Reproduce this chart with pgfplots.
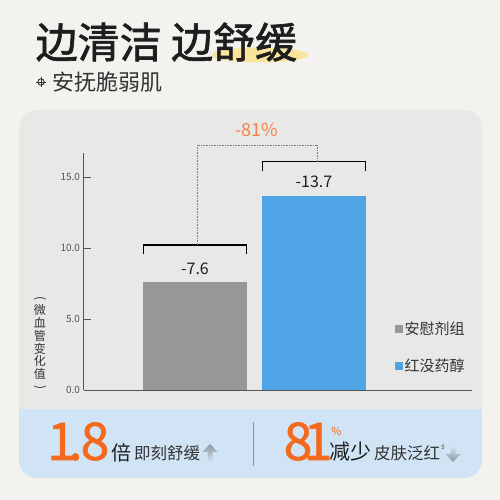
\documentclass[border=0pt]{standalone}
\usepackage{pgfplots}
\pgfplotsset{compat=1.18}
\usepackage{fontspec}
\setmainfont{Noto Sans CJK SC}
\newfontfamily\medfont[FakeBold=1.6]{Noto Sans CJK SC}
\newfontfamily\numfont[FakeBold=1.2]{Noto Sans CJK SC}
\definecolor{bg}{HTML}{F3F2EE}
\definecolor{panel}{HTML}{E8E8E6}
\definecolor{band}{HTML}{D0E4F5}
\definecolor{graybar}{HTML}{979797}
\definecolor{bluebar}{HTML}{4FA4E5}
\definecolor{orange1}{HTML}{F5804A}
\definecolor{orange2}{HTML}{F36A1E}
\definecolor{dark}{HTML}{1E1E1E}
\definecolor{mid}{HTML}{333333}
\definecolor{tickc}{HTML}{555555}
\definecolor{hilite}{HTML}{F8E49A}
\definecolor{arrowc}{HTML}{8E959C}
\begin{document}
\begin{tikzpicture}[x=1pt,y=1pt]
\fill[bg] (0,0) rectangle (500,500);
% panel
\fill[panel, rounded corners=18pt] (19,22) rectangle (482,390);
\begin{scope}
\clip[rounded corners=18pt] (19,22) rectangle (482,390);
\fill[band] (19,22) rectangle (482,91);
\end{scope}
% title
\fill[hilite] (260,445) ellipse (48 and 7.5);
\node[anchor=west, inner sep=0, text=dark, font=\fontsize{42}{42}\medfont] at (35.5,458) {边清洁 边舒缓};
% subtitle
\draw[mid, line width=0.9pt] (41,418) circle (3.2);
\draw[mid, line width=0.9pt] (36,418) -- (46,418) (41,413) -- (41,423);
\node[anchor=west, inner sep=0, text=mid, font=\fontsize{22}{22}\selectfont] at (52,418) {安抚脆弱肌};

\begin{axis}[
  at={(83.5pt,110pt)}, anchor=south west,
  scale only axis, width=388.5pt, height=236.8pt,
  xmin=-0.937, xmax=2.328, ymin=0, ymax=16.7,
  axis x line=bottom, axis y line=left,
  axis line style={-, color=tickc, line width=0.8pt},
  xtick=\empty,
  ytick={0,5,10,15},
  tick align=inside, major tick length=7pt,
  tick style={color=tickc, line width=0.8pt},
  yticklabel style={text=tickc, font=\fontsize{10}{10}\selectfont},
  /pgf/number format/assume math mode=true,
  /pgf/number format/.cd, fixed, fixed zerofill, precision=1, /pgfplots/.cd,
  clip=false,
  ylabel={\rotatebox[origin=c]{-90}{(}\\微\\血\\管\\变\\化\\值\\\rotatebox[origin=c]{-90}{)}},
  ylabel style={rotate=-90, anchor=south, align=center, at={(axis description cs:-0.112,-0.021)}, font=\fontsize{12}{12.8}\selectfont, text=mid},
  legend style={at={(axis description cs:0.80,0.297)}, anchor=north west, draw=none, fill=none,
    font=\fontsize{15}{15}\selectfont, text=mid, row sep=19pt, inner sep=0pt,
    /tikz/every even column/.append style={column sep=11pt}},
  legend image code/.code={\path[#1,draw=none] (0pt,-4pt) rectangle (8pt,4pt);},
  nodes near coords, point meta=explicit symbolic,
  every node near coord/.append style={font=\fontsize{16}{16}\selectfont, text=dark, anchor=south, yshift=4pt},
]
\addplot[ybar, bar width=0.874, fill=graybar, draw=none] coordinates {(0,7.6) [-7.6]};
\addlegendentry{安慰剂组}
\addplot[ybar, bar width=0.874, fill=bluebar, draw=none] coordinates {(1,13.7) [-13.7]};
\addlegendentry{红没药醇}
% brackets
\draw[black, line width=1.2pt] (axis cs:-0.435,9.59) -- (axis cs:-0.435,10.23) -- (axis cs:0.435,10.23) -- (axis cs:0.435,9.59);
\draw[black, line width=1.2pt] (axis cs:0.565,15.44) -- (axis cs:0.565,16.1) -- (axis cs:1.435,16.1) -- (axis cs:1.435,15.44);
\draw[gray, densely dotted, line width=0.6pt] (axis cs:0.017,10.23) -- (axis cs:0.017,17.28) -- (axis cs:1.03,17.28) -- (axis cs:1.03,16.1);
\node[text=orange1, font=\fontsize{18}{18}\selectfont] at (axis cs:0.52,18.35) {-81\%};
\end{axis}

% bottom band
\begin{scope}[every node/.style={anchor=base, inner sep=0, text=orange2, font=\fontsize{52}{52}\numfont}]
\node at (61.5,40) {1};
\node at (75.5,40) {.};
\node at (95,40) {8};
\node at (298,40) {8};
\node at (318,40) {1};
\end{scope}
\node[anchor=base west, inner sep=0, text=dark, font=\fontsize{20}{20}\selectfont] at (111,39) {倍};
\node[anchor=base west, inner sep=0, text=mid, font=\fontsize{16.5}{16.5}\selectfont] at (134,40) {即刻舒缓};
\shade[top color=arrowc, bottom color=band] (210,56) -- (217.5,48) -- (212.5,48) -- (212.5,38) -- (207.5,38) -- (207.5,48) -- (202.5,48) -- cycle;
\draw[arrowc, line width=1pt] (253,34) -- (253,78);
\node[anchor=center, inner sep=0, text=orange2, font=\fontsize{11}{11}\selectfont] at (336.5,69) {\%};
\node[anchor=base west, inner sep=0, text=dark, font=\fontsize{21}{21}\selectfont] at (329,40) {减少};
\node[anchor=base west, inner sep=0, text=mid, font=\fontsize{16.5}{16.5}\selectfont] at (374,40) {皮肤泛红};
\node[anchor=center, inner sep=0, text=mid, font=\fontsize{6}{6}\selectfont] at (443,53) {5};
\shade[top color=band, bottom color=arrowc] (453,38) -- (460.5,46) -- (455.5,46) -- (455.5,54) -- (450.5,54) -- (450.5,46) -- (445.5,46) -- cycle;
\end{tikzpicture}
\end{document}
